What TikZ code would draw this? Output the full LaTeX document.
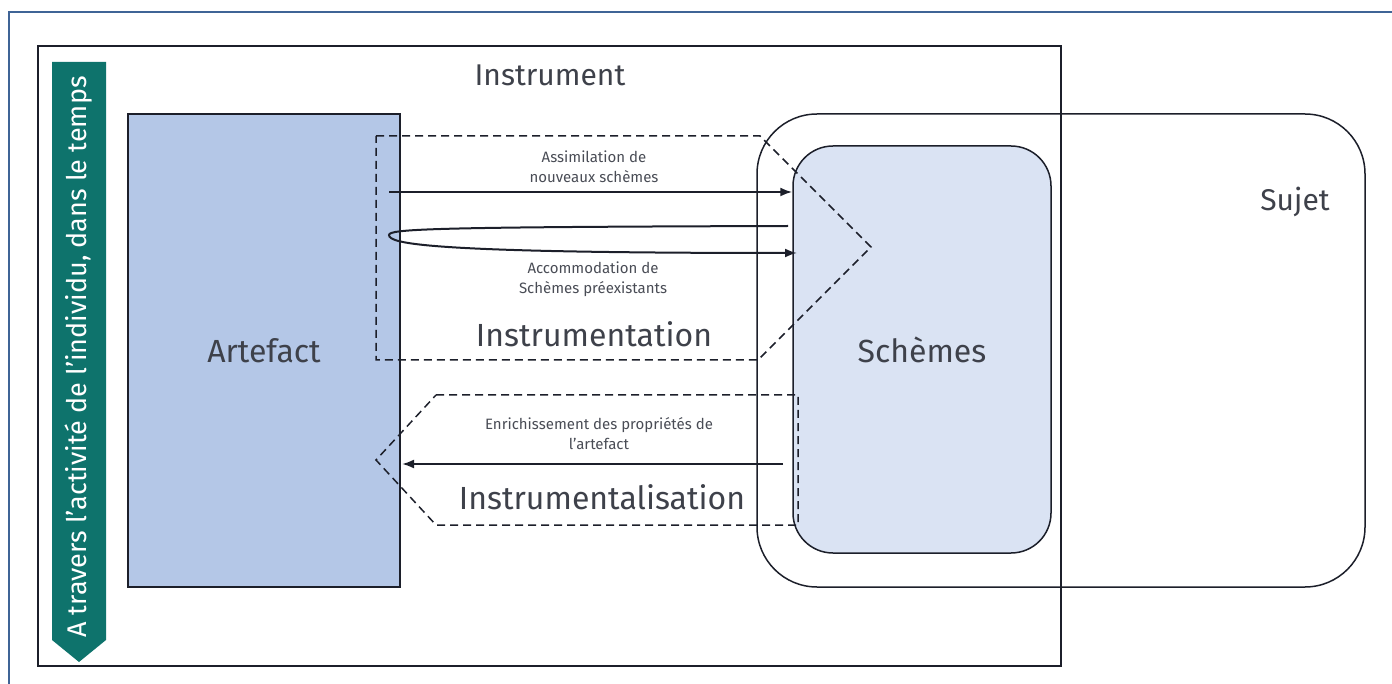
\documentclass[tikz,border=0pt]{standalone}
\usepackage{fontspec}
\setmainfont{Fira Sans}
\usetikzlibrary{arrows.meta}
\definecolor{framecol}{HTML}{3F6496}
\definecolor{bandcol}{HTML}{0E736C}
\definecolor{artcol}{HTML}{B4C7E7}
\definecolor{schcol}{HTML}{DAE3F3}
\definecolor{linecol}{HTML}{1C1F2A}
\begin{document}
\begin{tikzpicture}[x=1pt,y=-1pt,
  bigtext/.style={font=\fontsize{32}{36}\selectfont,text=linecol!85},
  midtext/.style={font=\fontsize{30}{34}\selectfont,text=linecol!85},
  smalltext/.style={font=\fontsize{15}{20}\selectfont,text=linecol!80,align=center},
  dashbox/.style={draw=linecol,line width=1.5pt,dash pattern=on 8pt off 5pt},
  flow/.style={draw=linecol,line width=2pt,-{Latex[length=12pt,width=9pt]}}]
\useasboundingbox (0,0) rectangle (1392,684);
\draw[framecol,line width=2.5pt] (1392,12) -- (9,12) -- (9,684);
\draw[linecol,line width=2pt] (38,46) rectangle (1061,666);
\fill[bandcol] (52,62) -- (106,62) -- (106,640) -- (79,662) -- (52,640) -- cycle;
\node[rotate=90,text=white,font=\fontsize{27}{30}\selectfont] (temps) at (79,357) {A travers l'activité de l'individu, dans le temps};
\node[draw=linecol,line width=1.5pt,rounded corners=60pt,minimum width=608pt,minimum height=473pt] (sujetbox) at (1061,350.5) {};
\node[midtext] (sujet) at (1295,202) {Sujet};
\node[midtext] (instr) at (550,75) {Instrument};
\node[draw=linecol,line width=1.5pt,fill=artcol,minimum width=272pt,minimum height=473pt,inner sep=0pt,bigtext] (artefact) at (264,350.5) {Artefact};
\node[draw=linecol,line width=1.5pt,fill=schcol,rounded corners=40pt,minimum width=258pt,minimum height=407pt,inner sep=0pt,bigtext] (schemes) at (922,349.5) {Schèmes};
\draw[dashbox] (376,136) -- (760,136) -- (871,247) -- (758,360) -- (376,360) -- cycle;
\draw[dashbox] (436,395) -- (798,395) -- (798,525) -- (436,525) -- (376,460) -- cycle;
\coordinate (assimA) at (389,192);
\coordinate (accA) at (788,226);
\coordinate (accB) at (797,253);
\coordinate (enrA) at (783,464);
\coordinate (enrB) at (402,464);
\draw[flow] (assimA) -- (assimA -| schemes.west);
\draw[flow] (accA) .. controls (430,227) and (389,229) .. (389,235) .. controls (389,244) and (430,253) .. (accB);
\draw[flow] (enrA) -- (enrB);
\node[smalltext] (assim) at (594,167) {Assimilation de\\nouveaux schèmes};
\node[smalltext] (accom) at (593,279) {Accommodation de\\Schèmes préexistants};
\node[bigtext] (instrum) at (594,334) {Instrumentation};
\node[smalltext] (enrich) at (599,434) {Enrichissement des propriétés de\\l'artefact};
\node[bigtext] (instrumal) at (602,497) {Instrumentalisation};
\end{tikzpicture}
\end{document}
